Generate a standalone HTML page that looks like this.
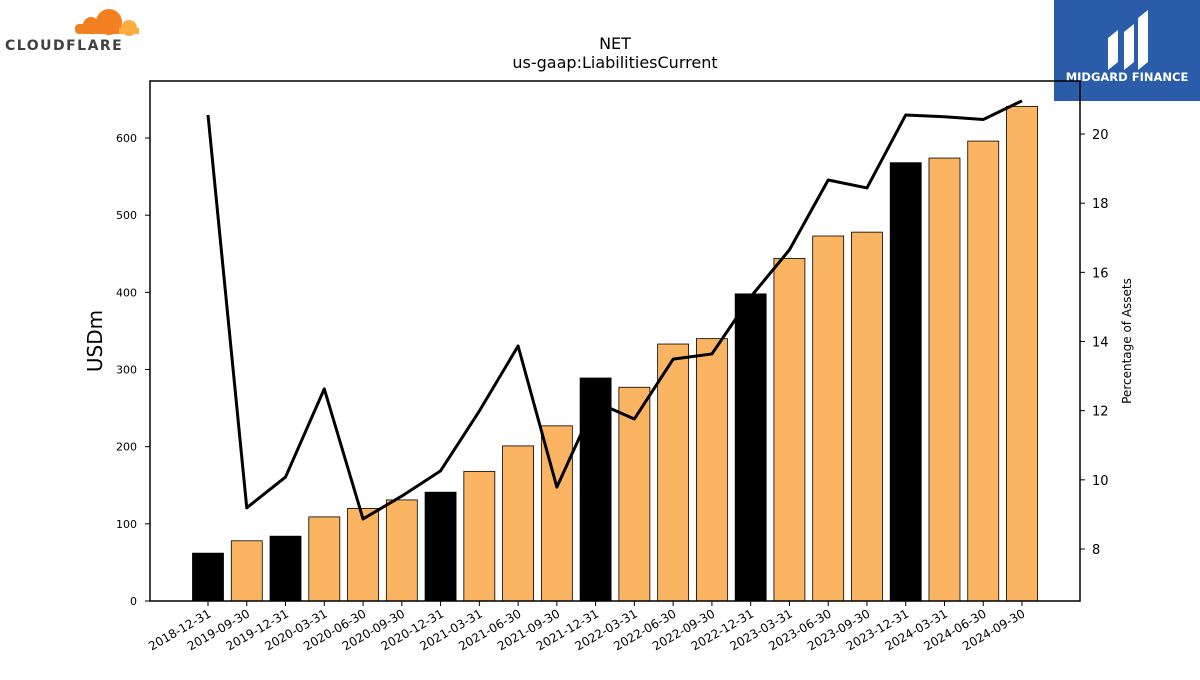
<!DOCTYPE html>
<html><head><meta charset="utf-8"><style>
body{margin:0;background:#fff;font-family:"Liberation Sans","DejaVu Sans",sans-serif;}
svg text{font-family:"DejaVu Sans","Liberation Sans",sans-serif;}
</style></head><body>
<svg id="c" width="1200" height="675" viewBox="0 0 1200 675" xmlns="http://www.w3.org/2000/svg">
<g>
<circle cx="109" cy="22" r="13" fill="#f38020"/><circle cx="91" cy="25" r="8" fill="#f38020"/>
<rect x="75" y="24" width="48" height="10" rx="4" fill="#f38020"/>
<circle cx="129" cy="28" r="8" fill="#faae40"/><rect x="119" y="28" width="20" height="6" fill="#faae40"/>
<text x="5" y="50" font-size="14" font-weight="bold" fill="#404041" letter-spacing="1.5">CLOUDFLARE</text>
</g>
<g>
<rect x="1054" y="0" width="146" height="101" fill="#2a5caa"/>
<path d="M1108 70 L1108 38 L1118 30 L1118 62 Z M1124 70 L1124 32 L1134 24 L1134 62 Z M1138 70 L1138 18 L1148 10 L1148 62 Z" fill="#fff"/>
<text x="1127" y="81" font-size="11.5" font-weight="bold" fill="#fff" text-anchor="middle">MIDGARD FINANCE</text>
</g>
<text x="615" y="49" font-size="16" text-anchor="middle">NET</text>
<text x="615" y="68" font-size="16" text-anchor="middle">us-gaap:LiabilitiesCurrent</text>
<text transform="translate(102,341) rotate(-90)" font-size="20" text-anchor="middle">USDm</text>
<text transform="translate(1131,341) rotate(-90)" font-size="12" text-anchor="middle">Percentage of Assets</text>
<g id="plot"></g>
<rect x="150" y="81" width="930" height="520" fill="none" stroke="#000" stroke-width="1.5"/>
</svg>
<script>
const categories=["2018-12-31","2019-09-30","2019-12-31","2020-03-31","2020-06-30","2020-09-30","2020-12-31","2021-03-31","2021-06-30","2021-09-30","2021-12-31","2022-03-31","2022-06-30","2022-09-30","2022-12-31","2023-03-31","2023-06-30","2023-09-30","2023-12-31","2024-03-31","2024-06-30","2024-09-30"];
const liabilities=[62,78,84,109,120,131,141,168,201,227,289,277,333,340,398,444,473,478,568,574,596,641];
const pctAssets=[20.55,9.19,10.08,12.63,8.87,9.53,10.26,11.99,13.87,9.79,12.25,11.76,13.49,13.64,15.29,16.65,18.67,18.44,20.55,20.5,20.42,20.96];
const leftTicks=[0,100,200,300,400,500,600];
const rightTicks=[8,10,12,14,16,18,20];
const NS="http://www.w3.org/2000/svg";
const g=document.getElementById('plot');
const x=i=>208+i*(1022-208)/(categories.length-1);
const yL=v=>601-v*(601-138)/600;
const yR=v=>549-(v-8)*(549-134)/12;
function mk(t,a){const e=document.createElementNS(NS,t);for(const k in a)e.setAttribute(k,a[k]);g.appendChild(e);return e;}
leftTicks.forEach(v=>{
 const l=mk('line',{x1:145,x2:150,y1:yL(v),y2:yL(v),stroke:'#000'});
 
 
 const t=mk('text',{x:137,y:yL(v)+4,'font-size':11,'text-anchor':'end'});t.textContent=v;
 
 
});
rightTicks.forEach(v=>{
 const l=mk('line',{x1:1080,x2:1085,y1:yR(v),y2:yR(v),stroke:'#000'});
 
 
 const t=mk('text',{x:1092,y:yR(v)+5,'font-size':13});t.textContent=v;
 
 
});
categories.forEach((c,i)=>{
 const dec=c.endsWith('12-31');
 const b=mk('rect',{x:x(i)-15.5,y:yL(liabilities[i]),width:31,height:601-yL(liabilities[i]),fill:dec?'#000':'#fbb462',stroke:'#000','stroke-width':0.8});
 
 
 const tk=mk('line',{x1:x(i),x2:x(i),y1:601,y2:606,stroke:'#000'});
 
 
 const t=mk('text',{transform:`translate(${x(i)+4},${616}) rotate(-30)`,'font-size':12,'text-anchor':'end'});t.textContent=c;
 
 
});
const ln=mk('polyline',{points:pctAssets.map((v,i)=>x(i)+','+yR(v)).join(' '),fill:'none',stroke:'#000','stroke-width':3,'stroke-linejoin':'round'});


</script>
</body></html>
